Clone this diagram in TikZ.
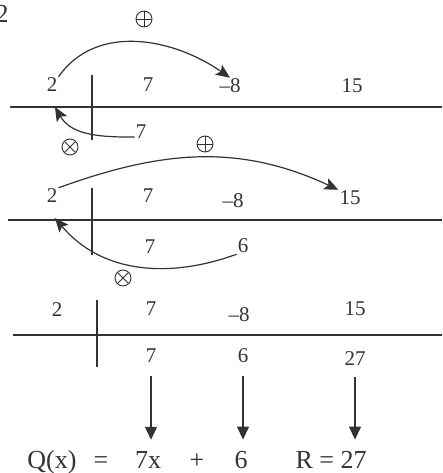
\documentclass[tikz,border=0pt]{standalone}
\usepackage{fontspec}
\setmainfont{Liberation Serif}
\usetikzlibrary{arrows.meta}
\definecolor{ink}{gray}{0.2}
\tikzset{
  num/.style={inner sep=1pt, text=ink, font=\fontsize{21}{23}\selectfont},
  res/.style={inner sep=1pt, anchor=base, text=ink, font=\fontsize{26}{28}\selectfont},
  rule/.style={ink, line width=1.2pt},
  arc/.style={ink, line width=1.2pt, -{Stealth[length=14pt,width=12pt,inset=3pt]}},
  down/.style={ink, line width=1.2pt, -{Triangle[length=13pt,width=12pt]}},
  opsign/.style={circle, draw=ink, line width=0.9pt, minimum size=16pt, inner sep=0pt},
  plussign/.style={opsign, path picture={
    \draw[ink, line width=0.9pt] (path picture bounding box.north) -- (path picture bounding box.south)
      (path picture bounding box.west) -- (path picture bounding box.east);}},
  timessign/.style={opsign, path picture={
    \draw[ink, line width=0.9pt]
      ([shift={(45:8pt)}]path picture bounding box.center) -- ([shift={(225:8pt)}]path picture bounding box.center)
      ([shift={(135:8pt)}]path picture bounding box.center) -- ([shift={(-45:8pt)}]path picture bounding box.center);}},
}
\begin{document}
\begin{tikzpicture}[x=1pt,y=1pt]
    \useasboundingbox (0,0) rectangle (442,-473);
    % number cut by the corner
    \node[num, font=\fontsize{26}{28}\selectfont] (corner) at (2,-14) {2};
    % first step: 2 x 7 added to -8
    \node[num] (a2) at (52,-85) {2};
    \node[num] (a7) at (148,-85) {7};
    \node[num] (am8) at (230,-86) {--8};
    \node[num] (a15) at (352,-86) {15};
    \node[num] (b7) at (141,-132) {7};
    \draw[rule] (10,-107) -- (442,-107);
    \draw[rule] (92,-75) -- (92,-140);
    \coordinate (aline) at (55,-107);
    \draw[arc] (a2.north east) to[out=55,in=145] (am8.north);
    \draw[arc] ([yshift=3pt]b7.south west) to[out=180,in=-60] (aline);
    \node[plussign] (plusa) at (144,-19) {};
    \node[timessign] (timesa) at (70,-147) {};
    % second step: 2 x 6 added to 15
    \node[num] (d2) at (52,-196) {2};
    \node[num] (d7) at (148,-196) {7};
    \node[num] (dm8) at (233,-201) {--8};
    \node[num] (d15) at (350,-198) {15};
    \node[num] (e7) at (150,-247) {7};
    \node[num] (e6) at (243,-246) {6};
    \draw[rule] (8,-220) -- (442,-220);
    \draw[rule] (92,-188) -- (92,-255);
    \coordinate (dline) at (55,-218);
    \draw[arc] (d2.north east) to[out=20,in=155] (d15.north west);
    \draw[arc] (e6.south west) to[out=200,in=-50] (dline);
    \node[plussign] (plusd) at (205,-144) {};
    \node[timessign] (timesd) at (123,-278) {};
    % last row and the result
    \node[num] (g2) at (57,-310) {2};
    \node[num] (g7) at (151,-309) {7};
    \node[num] (gm8) at (239,-315) {--8};
    \node[num] (g15) at (355,-309) {15};
    \node[num] (h7) at (151,-356) {7};
    \node[num] (h6) at (243,-356) {6};
    \node[num] (h27) at (355,-359) {27};
    \draw[rule] (13,-335) -- (442,-335);
    \draw[rule] (97,-300) -- (97,-367);
    \node[res] (qx) at (52,-468) {Q(x)};
    \node[res] (eq) at (101,-468) {=};
    \node[res] (q7x) at (148,-468) {7x};
    \node[res] (plus) at (197,-468) {+};
    \node[res] (q6) at (241,-468) {6};
    \node[res] (rem) at (331,-468) {R = 27};
    \draw[down, shorten >=10pt] ([yshift=-12pt]h7.south) -- (h7.south |- q7x.north);
    \draw[down, shorten >=10pt] ([yshift=-12pt]h6.south) -- (h6.south |- q6.north);
    \draw[down, shorten >=10pt] ([yshift=-10pt]h27.south) -- (h27.south |- rem.north);
\end{tikzpicture}
\end{document}
